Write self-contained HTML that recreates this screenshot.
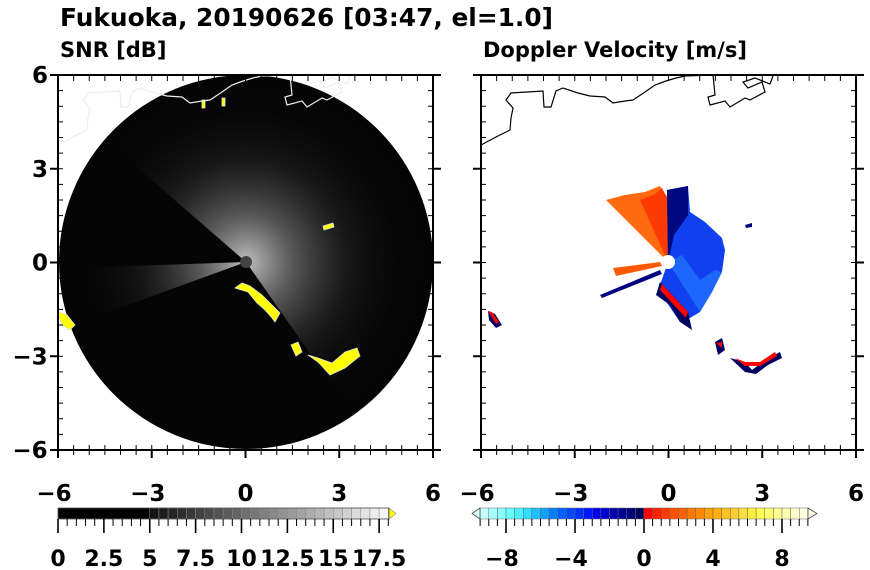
<!DOCTYPE html>
<html><head><meta charset="utf-8"><style>
body{margin:0;background:#fff;}
svg{display:block;font-family:"DejaVu Sans","Liberation Sans",sans-serif;font-weight:bold;}
</style></head><body>
<svg id="s" width="870" height="570" viewBox="0 0 870 570" xmlns="http://www.w3.org/2000/svg">
<defs>
<radialGradient id="fan" cx="246" cy="262" r="190" gradientUnits="userSpaceOnUse">
<stop offset="0" stop-color="#fff" stop-opacity="0.75"/>
<stop offset="0.25" stop-color="#bbb" stop-opacity="0.45"/>
<stop offset="0.55" stop-color="#777" stop-opacity="0.15"/>
<stop offset="0.8" stop-color="#333" stop-opacity="0.03"/>
<stop offset="1" stop-color="#222" stop-opacity="0"/>
</radialGradient>
<clipPath id="c1"><rect x="58" y="75" width="375" height="375"/></clipPath>
<clipPath id="c2"><rect x="481" y="75" width="375" height="375"/></clipPath>
</defs>
<text x="60" y="26" font-size="24.5" textLength="493" lengthAdjust="spacingAndGlyphs">Fukuoka, 20190626 [03:47, el=1.0]</text>
<text x="60" y="57" font-size="21">SNR [dB]</text>
<text x="483" y="57" font-size="21">Doppler Velocity [m/s]</text>

<g clip-path="url(#c1)">
<circle cx="246" cy="262" r="187" fill="#050505"/>
<path id="f1" fill="url(#fan)"/>
<path id="f2" fill="url(#fan)"/>
<circle cx="246" cy="262" r="6" fill="#444"/>
<g fill="#ffff00" stroke="#ddd" stroke-width="0.8">
<polygon points="235,288 248,292 257,303 265,310 272,318 275,322 280,313 272,305 262,295 250,286 242,283"/>
<polygon points="291,345 298,342 302,352 296,356"/>
<polygon points="308,355 318,362 330,375 345,368 360,356 357,348 345,352 332,363 318,358"/>
<polygon points="57,311 67,315 75,325 70,330 62,325"/>
<polygon points="323,226 333,223 334,227 324,230"/>
<rect x="202" y="100" width="3" height="8"/><rect x="222" y="98" width="3" height="8"/>
</g>
<polyline id="cl1" fill="none" stroke="#eee" stroke-width="1.2"/>
</g>
<rect x="58" y="75" width="375" height="375" fill="none" stroke="#000" stroke-width="2"/>

<g clip-path="url(#c2)">
<polygon points="668,262 606,200 625,195 645,192 660,186 668,198" fill="#ff6a10"/>
<polygon points="668,262 640,200 655,194 662,188 668,200" fill="#ff3a00"/>
<polygon points="668,262 667,190 688,186 690,212 705,222 722,238 725,250 722,272 712,292 700,312 690,318 680,322 665,300 660,285" fill="#1040f0"/>
<polygon points="668,262 667,190 688,186 688,215 674,235" fill="#000880"/>
<polygon points="668,262 682,255 700,280 715,270 722,272 712,292 700,312" fill="#2070ff" opacity="0.8"/>
<polygon points="660,282 668,290 688,312 692,330 680,322 670,305 656,295" fill="#000060"/>
<polygon points="662,284 688,312 686,318 660,290" fill="#ff0000"/>
<polygon points="660,262 613,268 616,276 662,266" fill="#ff5a00"/>
<polygon points="660,270 600,295 602,298 662,274" fill="#000080"/>
<g>
<polygon points="488,311 495,314 502,325 496,328 489,320" fill="#000060"/>
<polygon points="488,311 492,312 499,322 496,324" fill="#ff0000"/>
<polygon points="715,342 722,338 725,350 718,355" fill="#000060"/>
<polygon points="716,343 722,342 722,348" fill="#ff0000"/>
<polygon points="730,358 745,362 752,370 765,360 780,352 782,358 768,365 756,374 745,372" fill="#000060"/>
<polygon points="735,358 745,362 760,362 775,352 777,356 760,366 745,366" fill="#ff0000"/>
<polygon points="745,225 752,223 752,227 746,228" fill="#000080"/>
</g>
<polyline id="cl2" fill="none" stroke="#000" stroke-width="1.2"/>
</g>
<circle cx="668" cy="262" r="7" fill="#fff"/>
<rect x="481" y="75" width="375" height="375" fill="none" stroke="#000" stroke-width="2"/>
<g id="ticks" stroke="#000"></g>
<g id="labs" font-size="23" text-anchor="middle"></g>
<g id="cb"></g>
</svg>
<script>
var NS="http://www.w3.org/2000/svg";
function el(p,t,a,tx){var e=document.createElementNS(NS,t);for(var k in a)e.setAttribute(k,a[k]);if(tx!==undefined)e.textContent=tx;document.getElementById(p).appendChild(e);return e;}
function arc(cx,cy,r,a1,a2){a1*=Math.PI/180;a2*=Math.PI/180;return "M"+cx+","+cy+"L"+(cx+r*Math.cos(a1))+","+(cy+r*Math.sin(a1))+"A"+r+","+r+" 0 "+((a2-a1)>Math.PI?1:0)+" 1 "+(cx+r*Math.cos(a2))+","+(cy+r*Math.sin(a2))+"Z";}
document.getElementById("f1").setAttribute("d",arc(246,262,187,221,415));
document.getElementById("f2").setAttribute("d",arc(246,262,160,160,178));
var cl=[[481,145],[496,137],[510,130],[511,118],[513,108],[506,100],[511,93],[543,91],[544,107],[551,107],[556,91],[563,88],[578,93],[590,96],[605,97],[613,103],[625,101],[633,100],[645,92],[655,85],[666,81],[676,78],[685,76],[713,75],[715,95],[708,97],[710,105],[725,101],[730,107],[745,98],[750,100],[765,92],[762,82],[748,88],[743,82],[755,78],[770,84],[773,76]];
document.getElementById("cl2").setAttribute("points",cl.map(function(p){return p[0]+","+p[1]}).join(" "));
document.getElementById("cl1").setAttribute("points",cl.map(function(p){return (p[0]-423)+","+p[1]}).join(" "));
[58,481].forEach(function(x0){
 for(var i=0;i<=24;i++){var x=x0+i*15.625,maj=i%6==0;var L=maj?8:5;
  el("ticks","line",{x1:x,y1:450,x2:x,y2:450+L,"stroke-width":maj?2:1});
  el("ticks","line",{x1:x,y1:450,x2:x,y2:445,"stroke-width":1});
  el("ticks","line",{x1:x,y1:75,x2:x,y2:81,"stroke-width":1});
  var y=75+i*15.625;
  el("ticks","line",{x1:x0,y1:y,x2:x0+5,y2:y,"stroke-width":1});
  el("ticks","line",{x1:x0+375,y1:y,x2:x0+370,y2:y,"stroke-width":1});
  if(maj){el("ticks","line",{x1:x0-8,y1:y,x2:x0,y2:y,"stroke-width":2});el("ticks","line",{x1:x0+375,y1:y,x2:x0+383,y2:y,"stroke-width":2});}
 }
 [-6,-3,0,3,6].forEach(function(v,k){el("labs","text",{x:x0+k*93.75-(v<0?4:0),y:501},(v<0?"\u2212":"")+Math.abs(v));});
});
[6,3,0,-3,-6].forEach(function(v,k){el("labs","text",{x:v<0?30:40,y:83+k*93.75},(v<0?"\u2212":"")+Math.abs(v));});
var s=18.35,x0=58;
el("cb","rect",{x:58,y:508,width:5*s,height:11,fill:"#000"});
for(var i=0;i<26;i++){var v=5+i*0.5,g=Math.round(20+i*9);el("cb","rect",{x:x0+v*s,y:508,width:s/2,height:11,fill:"rgb("+g+","+g+","+g+")",stroke:"#888","stroke-width":0.5});}
el("cb","polygon",{points:"389,508 396,513.5 389,519",fill:"#ff0",stroke:"#888","stroke-width":0.6});
el("cb","rect",{x:58,y:508,width:331,height:11,fill:"none",stroke:"#555","stroke-width":0.8});
for(var i=0;i<=36;i++){var x=x0+i*0.5*s;var m=i%5==0;el("cb","line",{x1:x,y1:519,x2:x,y2:m?533:526,stroke:"#000","stroke-width":m?1.6:1});}
["0","2.5","5","7.5","10","12.5","15","17.5"].forEach(function(t,k){el("cb","text",{x:x0+k*2.5*s,y:566,"font-size":22,"text-anchor":"middle"},t);});
var neg=["#c8ffff","#a8ffff","#88ffff","#68ffff","#48f4ff","#30dcff","#20c0ff","#10a0ff","#0080ff","#0060ff","#0048ff","#0030ff","#0018ff","#0000ee","#0000d0","#0000b0","#000090","#000078","#000058"];
var pos=["#ff0000","#ff2000","#ff3800","#ff5000","#ff6000","#ff7800","#ff8800","#ffa000","#ffb010","#ffc020","#ffd030","#ffe040","#fff040","#ffff50","#ffff70","#ffff90","#ffffb0","#ffffc8","#ffffe0"];
var c=644,u=17.25,cols=neg.concat(pos);
for(var i=0;i<38;i++){var v=-9.5+i*0.5;el("cb","rect",{x:c+v*u,y:508,width:u/2,height:11,fill:cols[i],stroke:"#666","stroke-width":0.5});}
el("cb","polygon",{points:"480,508 472,513.5 480,519",fill:"#e0ffff",stroke:"#444","stroke-width":0.8});
el("cb","polygon",{points:"808,508 817,513.5 808,519",fill:"#ffffe8",stroke:"#444","stroke-width":0.8});
for(var i=0;i<=38;i++){var v=-9.5+i*0.5;var x=c+v*u;var m=(v%4==0);el("cb","line",{x1:x,y1:519,x2:x,y2:m?533:526,stroke:"#000","stroke-width":m?1.6:1});}
[-8,-4,0,4,8].forEach(function(v){el("cb","text",{x:c+v*u-(v<0?4:0),y:566,"font-size":22,"text-anchor":"middle"},(v<0?"\u2212":"")+Math.abs(v));});
</script>
</body></html>
